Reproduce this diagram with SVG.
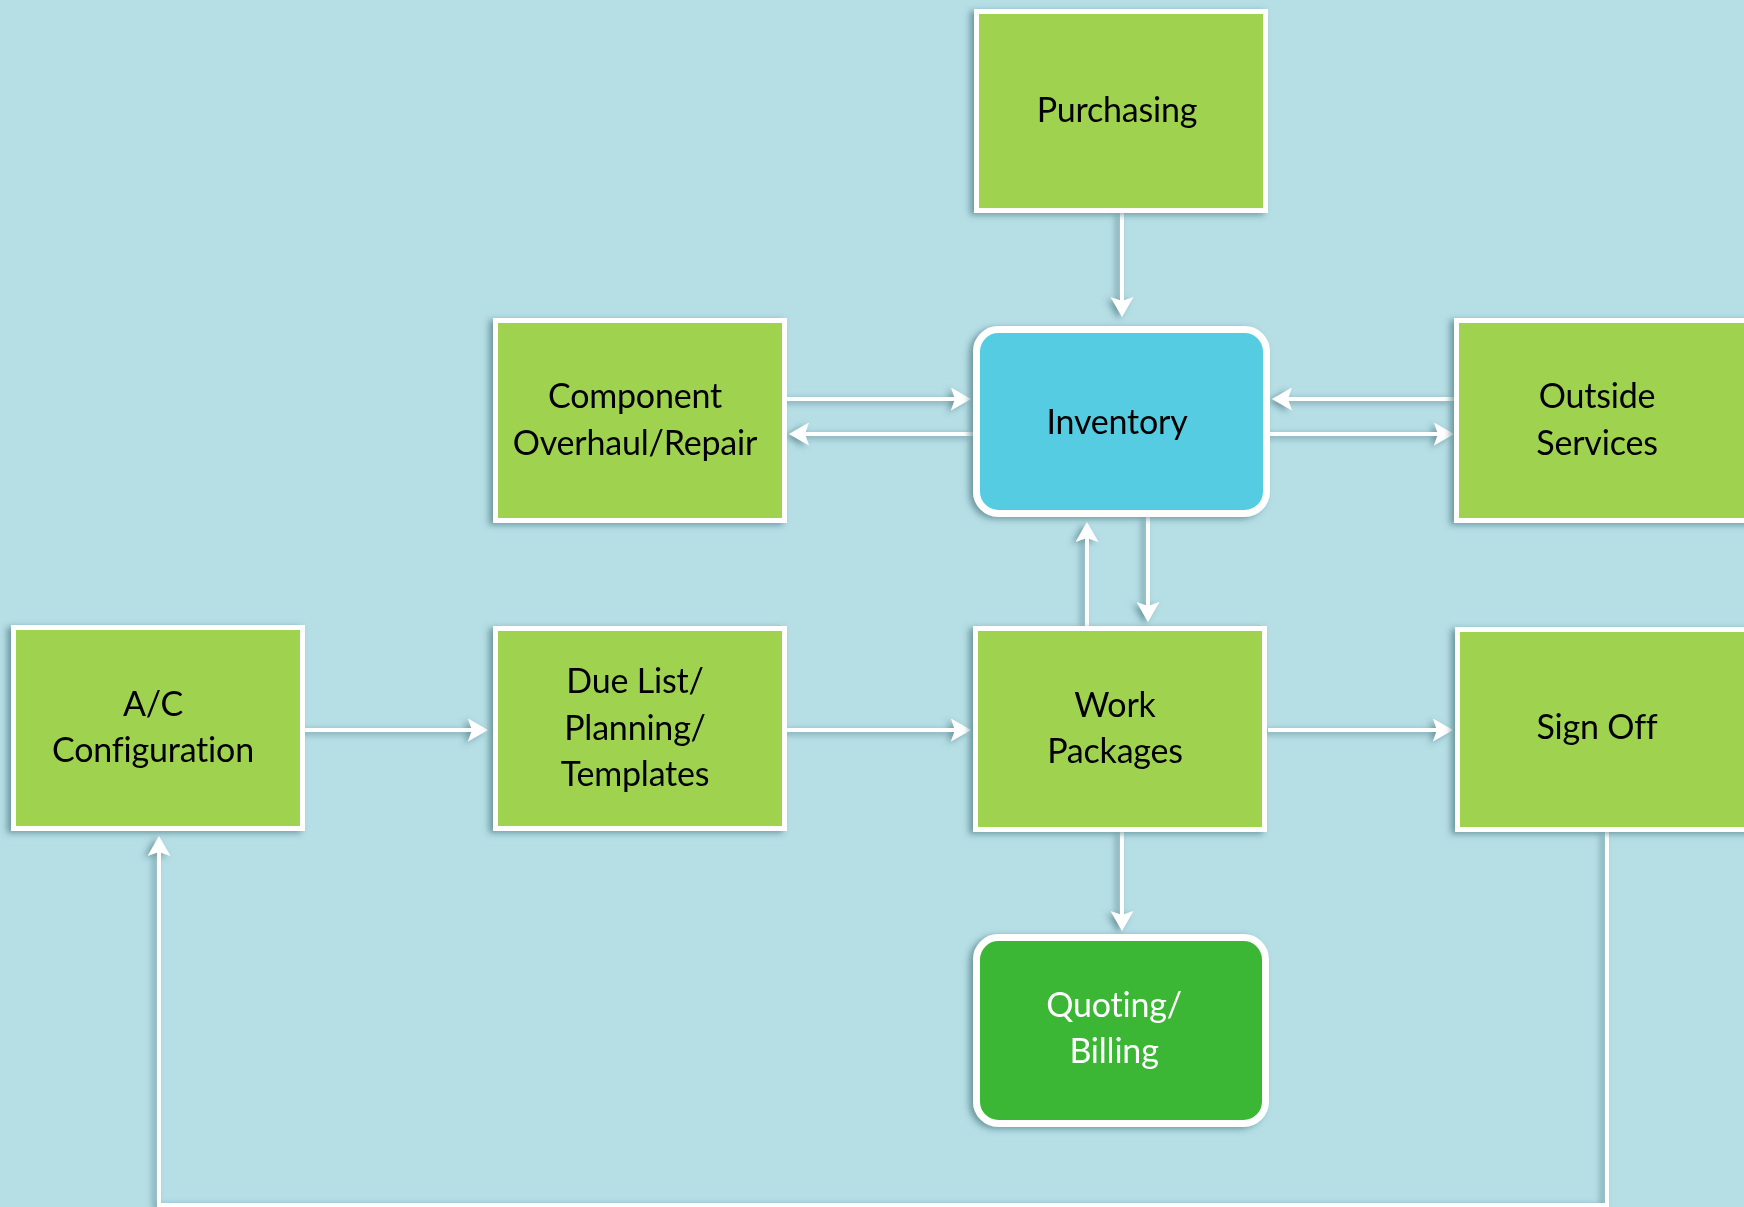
<svg xmlns="http://www.w3.org/2000/svg" width="1744" height="1207" viewBox="0 0 1744 1207">
<defs>
<style>
.box{fill:#9fd250;stroke:#ffffff;stroke-width:5}
.inv{fill:#56cce2;stroke:#ffffff;stroke-width:7}
.bill{fill:#3bb734;stroke:#ffffff;stroke-width:7}
.t{font-family:Lato,"Liberation Sans",sans-serif;font-size:34px;fill:#000;text-anchor:middle;font-variant-ligatures:none;letter-spacing:-0.2px}
.tw{fill:#ffffff}
.c{fill:none;stroke:#ffffff;stroke-width:4}
</style>
<filter id="sh" x="-10%" y="-10%" width="120%" height="120%">
<feDropShadow dx="-4" dy="2" stdDeviation="3" flood-color="#2f5f68" flood-opacity="0.55"/>
</filter>
<marker id="ah" viewBox="0 0 20 23" refX="10" refY="11.5" markerWidth="20" markerHeight="23" markerUnits="userSpaceOnUse" orient="auto">
<path d="M20,11.5 L0,0 L4,11.5 L0,23 Z" fill="#ffffff"/>
</marker>
</defs>
<rect x="0" y="0" width="1744" height="1207" fill="#b6dee5"/>
<g id="connectors" filter="url(#sh)">
<line class="c" x1="1122" y1="213" x2="1122" y2="307" marker-end="url(#ah)"/>
<line class="c" x1="787" y1="399" x2="961" y2="399" marker-end="url(#ah)"/>
<line class="c" x1="973" y1="434" x2="799" y2="434" marker-end="url(#ah)"/>
<line class="c" x1="1454" y1="399" x2="1282" y2="399" marker-end="url(#ah)"/>
<line class="c" x1="1270" y1="434" x2="1444" y2="434" marker-end="url(#ah)"/>
<line class="c" x1="305" y1="730" x2="478" y2="730" marker-end="url(#ah)"/>
<line class="c" x1="787" y1="730" x2="961" y2="730" marker-end="url(#ah)"/>
<line class="c" x1="1268" y1="730" x2="1443" y2="730" marker-end="url(#ah)"/>
<line class="c" x1="1087" y1="626" x2="1087" y2="532" marker-end="url(#ah)"/>
<line class="c" x1="1148" y1="517" x2="1148" y2="612" marker-end="url(#ah)"/>
<line class="c" x1="1122" y1="832" x2="1122" y2="921" marker-end="url(#ah)"/>
<path class="c" d="M1607,832 L1607,1205 L159,1205 L159,846" marker-end="url(#ah)"/>
</g>
<g id="purchasing" filter="url(#sh)">
<rect class="box" x="976.5" y="11.5" width="289" height="199"/>
<text class="t" x="1117" y="122">Purchasing</text>
</g>
<g id="component" filter="url(#sh)">
<rect class="box" x="495.5" y="320.5" width="289" height="200"/>
<text class="t" x="635" y="408">Component</text>
<text class="t" x="635" y="455">Overhaul/Repair</text>
</g>
<g id="inventory" filter="url(#sh)">
<rect class="inv" x="976.5" y="329.5" width="290" height="184" rx="22"/>
<text class="t" x="1117" y="434">Inventory</text>
</g>
<g id="outside" filter="url(#sh)">
<rect class="box" x="1456.5" y="320.5" width="300" height="200"/>
<text class="t" x="1597" y="408">Outside</text>
<text class="t" x="1597" y="455">Services</text>
</g>
<g id="ac" filter="url(#sh)">
<rect class="box" x="13.5" y="627.5" width="289" height="201"/>
<text class="t" x="153" y="716">A/C</text>
<text class="t" x="153" y="762">Configuration</text>
</g>
<g id="duelist" filter="url(#sh)">
<rect class="box" x="495.5" y="628.5" width="289" height="200"/>
<text class="t" x="635" y="693">Due List/</text>
<text class="t" x="635" y="740">Planning/</text>
<text class="t" x="635" y="786">Templates</text>
</g>
<g id="work" filter="url(#sh)">
<rect class="box" x="975.5" y="628.5" width="289" height="201"/>
<text class="t" x="1115" y="717">Work</text>
<text class="t" x="1115" y="763">Packages</text>
</g>
<g id="signoff" filter="url(#sh)">
<rect class="box" x="1457.5" y="629.5" width="300" height="200"/>
<text class="t" x="1597" y="739">Sign Off</text>
</g>
<g id="quoting" filter="url(#sh)">
<rect class="bill" x="976.5" y="937.5" width="289" height="186" rx="22"/>
<text class="t tw" x="1114" y="1017">Quoting/</text>
<text class="t tw" x="1114" y="1063">Billing</text>
</g>
</svg>
